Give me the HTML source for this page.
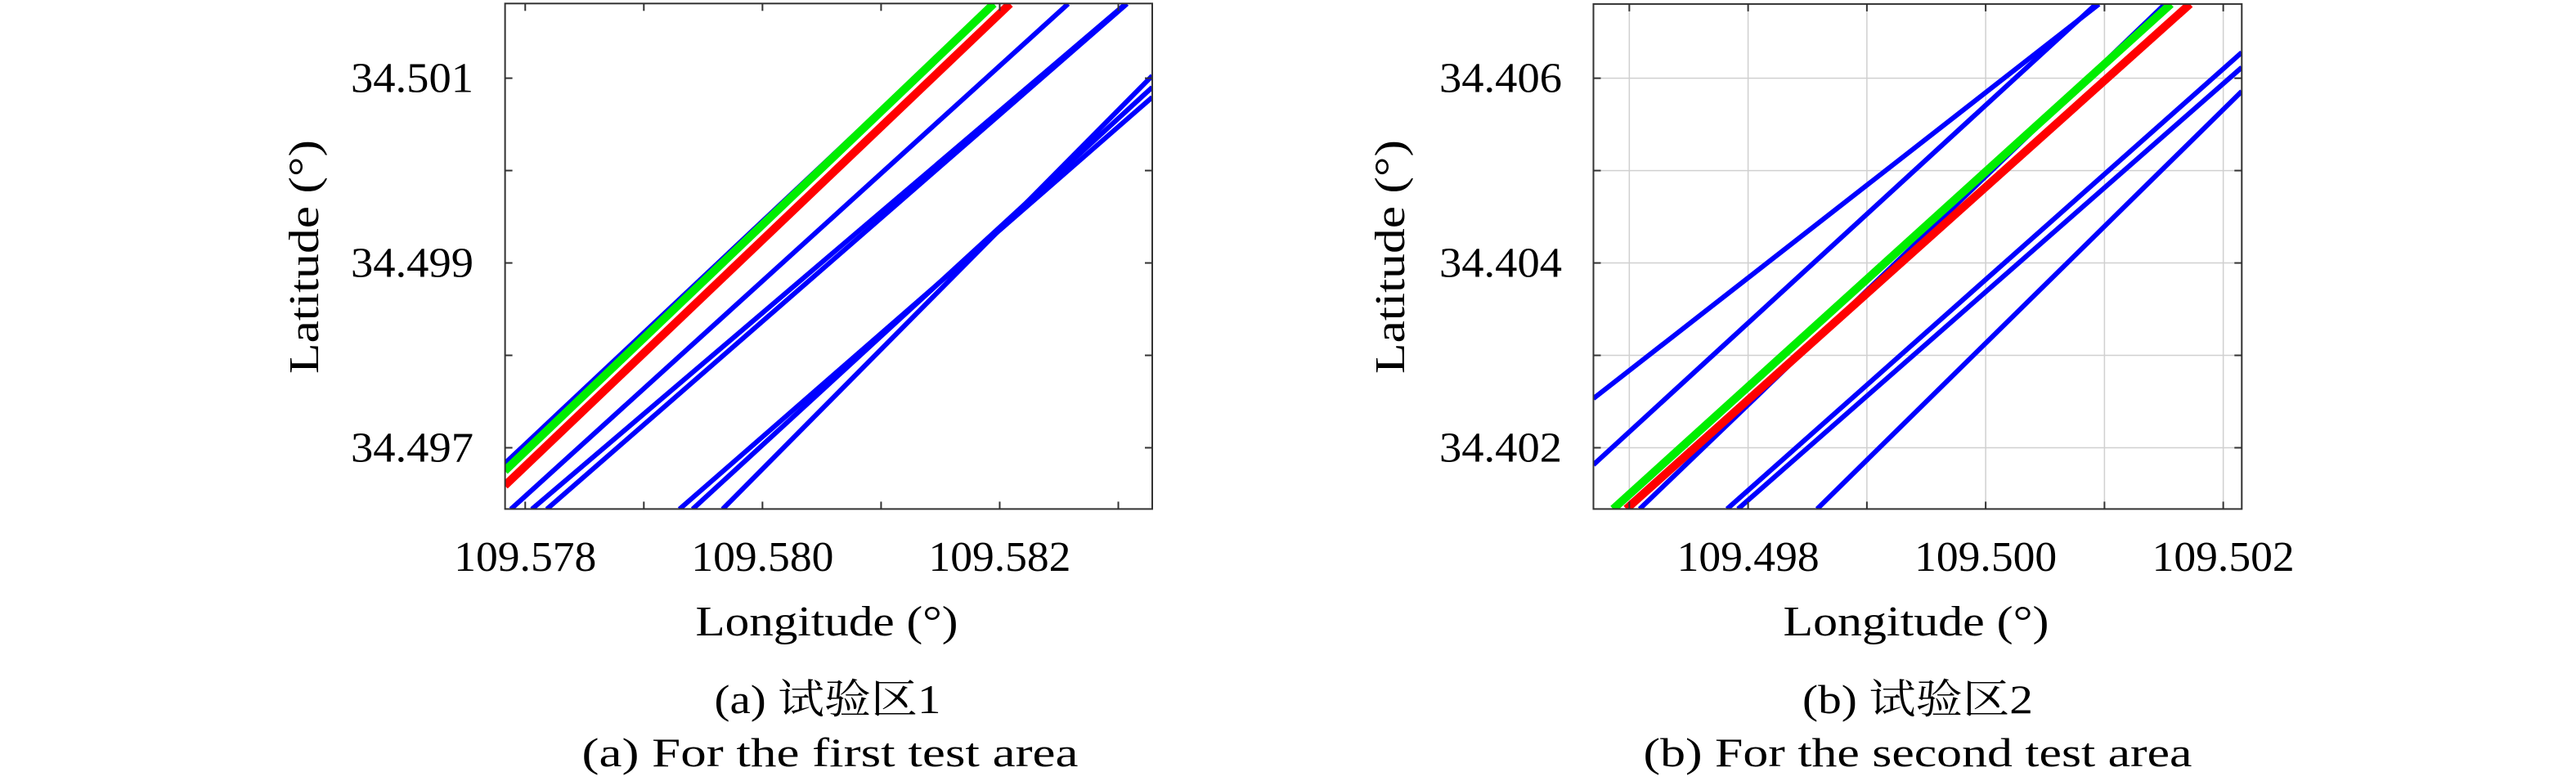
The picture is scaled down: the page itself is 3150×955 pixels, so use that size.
<!DOCTYPE html>
<html><head><meta charset="utf-8"><style>
html,body{margin:0;padding:0;background:#fff}
svg{display:block}
text{font-family:"Liberation Serif","Noto Serif CJK SC",serif;fill:#000}
</style></head><body>
<svg id="svg" width="3150" height="955" viewBox="0 0 3150 955" xmlns="http://www.w3.org/2000/svg"></svg>
<script>
// Chart A data (lon/lat endpoints of each track)
const aXTicks = [109.578, 109.579, 109.580, 109.581, 109.582, 109.583];
const aXLabels = ["109.578", "", "109.580", "", "109.582", ""];
const aYTicks = [34.497, 34.498, 34.499, 34.500, 34.501];
const aYLabels = ["34.497", "", "34.499", "", "34.501"];
const aBlueLon0 = [109.577828, 109.577879, 109.578056, 109.578182, 109.579300, 109.579411, 109.579664];
const aBlueLat0 = [34.49683, 34.496335, 34.496335, 34.496335, 34.496335, 34.496335, 34.496335];
const aBlueLon1 = [109.581950, 109.582577, 109.583062, 109.583073, 109.583286, 109.583286, 109.583286];
const aBlueLat1 = [34.501805, 34.501805, 34.501805, 34.501805, 34.500794, 34.500902, 34.501026];
const aGreen = [109.577828, 34.49675, 109.581950, 34.501805];
const aRed = [109.577828, 34.49659, 109.582087, 34.501805];
// Chart B data
const bXTicks = [109.497, 109.498, 109.499, 109.500, 109.501, 109.502];
const bXLabels = ["", "109.498", "", "109.500", "", "109.502"];
const bYTicks = [34.402, 34.403, 34.404, 34.405, 34.406];
const bYLabels = ["34.402", "", "34.404", "", "34.406"];
const bBlueLon0 = [109.496698, 109.496698, 109.497087, 109.497823, 109.497915, 109.498581];
const bBlueLat0 = [34.402533, 34.401816, 34.401337, 34.401337, 34.401337, 34.401337];
const bBlueLon1 = [109.500953, 109.500928, 109.501508, 109.502156, 109.502156, 109.502156];
const bBlueLat1 = [34.406801, 34.406801, 34.406801, 34.406279, 34.406117, 34.405858];
const bGreen = [109.496864, 34.401337, 109.501559, 34.406803];
const bRed = [109.496975, 34.401337, 109.501720, 34.406803];

const NS = "http://www.w3.org/2000/svg";
const svg = document.getElementById('svg');
function mk(tag, attrs, parent) {
  const e = document.createElementNS(NS, tag);
  for (const k in attrs) e.setAttribute(k, attrs[k]);
  (parent || svg).appendChild(e);
  return e;
}

function chart(o) {
  const g = mk('g', {});
  
  
  const sx = v => o.x0 + (v - o.lon0) / (o.lon1 - o.lon0) * (o.x1 - o.x0);
  const sy = v => o.y1 - (v - o.lat0) / (o.lat1 - o.lat0) * (o.y1 - o.y0);
  const cp = mk('clipPath', {id: o.id + 'clip'}, g);
  mk('rect', {x: o.x0, y: o.y0, width: o.x1 - o.x0, height: o.y1 - o.y0}, cp);
  if (o.grid) {
    o.xt.forEach(t => { const l = mk('line', {x1: sx(t), x2: sx(t), y1: o.y0, y2: o.y1, stroke: '#d0d0d0', 'stroke-width': 1.5}, g);
        });
    o.yt.forEach(t => { const l = mk('line', {x1: o.x0, x2: o.x1, y1: sy(t), y2: sy(t), stroke: '#d0d0d0', 'stroke-width': 1.5}, g);
        });
  }
  const pg = mk('g', {'clip-path': 'url(#' + o.id + 'clip)', 'stroke-linecap': 'butt'}, g);
  
  
  for (let i = 0; i < o.bl0.length; i++) {
    const l = mk('line', {x1: sx(o.bl0[i]), y1: sy(o.ba0[i]), x2: sx(o.bl1[i]), y2: sy(o.ba1[i]), stroke: '#0000ff', 'stroke-width': 6}, pg);
    
    
  }
  const gr = mk('line', {x1: sx(o.green[0]), y1: sy(o.green[1]), x2: sx(o.green[2]), y2: sy(o.green[3]), stroke: '#00ee00', 'stroke-width': 10}, pg);
  
  
  const rd = mk('line', {x1: sx(o.red[0]), y1: sy(o.red[1]), x2: sx(o.red[2]), y2: sy(o.red[3]), stroke: '#ff0000', 'stroke-width': 10}, pg);
  
  
  o.xt.forEach((t, i) => {
    const x = sx(t);
    mk('line', {x1: x, x2: x, y1: o.y1, y2: o.y1 - 9, stroke: '#333', 'stroke-width': 2}, g);
    mk('line', {x1: x, x2: x, y1: o.y0, y2: o.y0 + 9, stroke: '#333', 'stroke-width': 2}, g);
    if (o.xl[i]) {
      const tx = mk('text', {x: x, y: 698, 'font-size': 52, 'text-anchor': 'middle', textLength: 174, lengthAdjust: 'spacingAndGlyphs'}, g);
      tx.textContent = o.xl[i];
      
      
    }
  });
  o.yt.forEach((t, i) => {
    const y = sy(t);
    mk('line', {x1: o.x0, x2: o.x0 + 9, y1: y, y2: y, stroke: '#333', 'stroke-width': 2}, g);
    mk('line', {x1: o.x1, x2: o.x1 - 9, y1: y, y2: y, stroke: '#333', 'stroke-width': 2}, g);
    if (o.yl[i]) {
      const tx = mk('text', {x: o.ylx - 150, y: y + 17, 'font-size': 52, textLength: 150, lengthAdjust: 'spacingAndGlyphs'}, g);
      tx.textContent = o.yl[i];
      
      
    }
  });
  const box = mk('rect', {x: o.x0, y: o.y0, width: o.x1 - o.x0, height: o.y1 - o.y0, fill: 'none', stroke: '#333', 'stroke-width': 2}, g);
  
  
  const xt = mk('text', {x: o.xtc - o.xtw / 2, y: 777, 'font-size': 52, textLength: o.xtw, lengthAdjust: 'spacingAndGlyphs'}, g);
  xt.textContent = 'Longitude (°)';
  
  
  const yt = mk('text', {x: -143, y: 0, 'font-size': 52, textLength: 286, lengthAdjust: 'spacingAndGlyphs', transform: 'translate(' + (o.ytc + 17) + ',314) rotate(-90)'}, g);
  yt.textContent = 'Latitude (°)';
  
  
  const c1 = mk('text', {x: o.cc1 - o.c1w / 2, y: 872, 'font-size': 50, textLength: o.c1w, lengthAdjust: 'spacingAndGlyphs'}, g);
  c1.textContent = o.cap1;
  
  
  const c2 = mk('text', {x: o.cc2 - o.c2w / 2, y: 937, 'font-size': 50, textLength: o.c2w, lengthAdjust: 'spacingAndGlyphs'}, g);
  c2.textContent = o.cap2;
  
  
}

chart({id: 'a', x0: 617.6, x1: 1409, y0: 4.3, y1: 622.4,
  lon0: 109.57783, lon1: 109.583286, lat0: 34.496337, lat1: 34.501808,
  xt: aXTicks, xl: aXLabels, yt: aYTicks, yl: aYLabels,
  bl0: aBlueLon0, ba0: aBlueLat0, bl1: aBlueLon1, ba1: aBlueLat1, green: aGreen, red: aRed,
  grid: false, ylx: 579, xtc: 1011, xtw: 321, ytc: 372, cc1: 1012, c1w: 277, cc2: 1015, c2w: 607,
  cap1: '(a) 试验区1', cap2: '(a) For the first test area'});
chart({id: 'b', x0: 1948.5, x1: 2741.3, y0: 4.9, y1: 622.4,
  lon0: 109.496698, lon1: 109.502156, lat0: 34.401337, lat1: 34.406803,
  xt: bXTicks, xl: bXLabels, yt: bYTicks, yl: bYLabels,
  bl0: bBlueLon0, ba0: bBlueLat0, bl1: bBlueLon1, ba1: bBlueLat1, green: bGreen, red: bRed,
  grid: true, ylx: 1910, xtc: 2343, xtw: 325, ytc: 1700, cc1: 2345, c1w: 282, cc2: 2345, c2w: 671,
  cap1: '(b) 试验区2', cap2: '(b) For the second test area'});
</script>
</body></html>
